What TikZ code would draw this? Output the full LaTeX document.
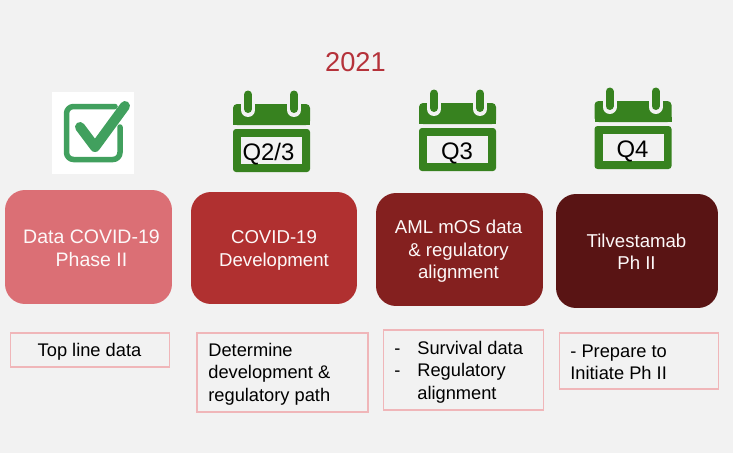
\documentclass[tikz,border=0pt]{standalone}
\usepackage{fontspec}
\setmainfont{Liberation Sans}
\usepackage{xcolor}
\usetikzlibrary{positioning}
\definecolor{rdPage}{HTML}{F2F2F2}
\definecolor{rdYear}{HTML}{B5323A}
\definecolor{rdRose}{HTML}{DB6F75}
\definecolor{rdRed}{HTML}{B03030}
\definecolor{rdDark}{HTML}{84201F}
\definecolor{rdDeep}{HTML}{591414}
\definecolor{rdNote}{HTML}{F0B6B9}
\definecolor{rdCal}{HTML}{37821F}
\definecolor{rdTick}{HTML}{41A05E}
\newcommand{\calfont}{\fontsize{13.6}{15}\selectfont}
\newcommand{\cardfont}{\fontsize{10.6}{12.8}\selectfont}
\newcommand{\notefont}{\fontsize{10.4}{12.7}\selectfont}
\newcommand{\dashitem}{\makebox[0.46cm][l]{-}}
\tikzset{
  rd card/.style={draw=none, rounded corners=0.4cm, inner sep=0pt},
  rd card text/.style={text=white!95!rdRose, align=center, inner sep=0pt, font=\cardfont},
  rd note/.style={draw=rdNote, line width=1pt, inner sep=0pt},
  rd note text/.style={text=black, align=left, inner sep=0pt, font=\notefont},
  rd ring/.style={draw=rdCal, line width=0.16cm, line cap=round},
  rd halo/.style={draw=rdPage, line width=0.28cm, line cap=round},
  rd tick/.style={draw=rdTick, line cap=round, line join=round},
  calicon/.pic={
    \fill[rdCal, rounded corners=0.08cm] (0,21) -- (0,0) -- (77,0) -- (77,21) -- cycle;
    \fill[rdCal] (0,21) -- (0,16) -- (77,16) -- (77,21) -- cycle;
    \fill[rdCal, rounded corners=0.06cm] (0,25) rectangle (77,68);
    \fill[rdPage] (8,4) rectangle (22,-4);
    \fill[rdPage] (54,4) rectangle (68,-4);
    \draw[rd halo] (15,-6) -- (15,6);
    \draw[rd halo] (61,-6) -- (61,6);
    \draw[rd ring] (15,-9.5) -- (15,5);
    \draw[rd ring] (61,-9.5) -- (61,5);
    \fill[rdPage] (8,33) rectangle (69,60);
    \node[font=\calfont, inner sep=0pt] (-label) at (38,50) {\tikzpictext};
  }
}

\begin{document}
\begin{tikzpicture}[x=0.02cm,y=-0.02cm]
\useasboundingbox (0,0) rectangle (733,453);
\fill[rdPage] (0,0) rectangle (733,453);
\node[text=rdYear, font=\fontsize{15.5}{18}\selectfont, inner sep=0pt] (year) at (355.5,62) {2021};
% tick box
\fill[white] (52,92) rectangle (134,174);
\draw[rd tick, line width=0.11cm, rounded corners=0.14cm] (115,106.5) -- (66.5,106.5) -- (66.5,159.5) -- (120,159.5) -- (120,127);
\draw[rd tick, line width=0.2cm] (80,127) -- (95,147) -- (125,106);
% calendars
\pic[pic text={Q2/3\hspace*{0.1cm}}] (calB) at (233,104) {calicon};
\pic[pic text={Q3}] (calC) at (419,103) {calicon};
\pic[pic text={Q4}] (calD) at (594.5,101) {calicon};
% cards
\node[rd card, fill=rdRose, minimum width=3.34cm, minimum height=2.28cm] (cardA) at (88.5,247) {};
\node[rd card, fill=rdRed, minimum width=3.32cm, minimum height=2.24cm] (cardB) at (274,248) {};
\node[rd card, fill=rdDark, minimum width=3.34cm, minimum height=2.26cm] (cardC) at (459.5,249.5) {};
\node[rd card, fill=rdDeep, minimum width=3.24cm, minimum height=2.28cm] (cardD) at (637,251) {};
\node[rd card text, font=\fontsize{11.1}{12.8}\selectfont] (cardAtext) at (91.5,248.5) {Data COVID-19\\Phase II};
\node[rd card text] (cardBtext) at (274,250.5) {COVID-19\\Development};
\node[rd card text] (cardCtext) at (458.5,251.5) {AML mOS data\\\& regulatory\\alignment};
\node[rd card text] (cardDtext) at (636.5,252) {Tilvestamab\\Ph II};
% notes
\node[rd note, minimum width=3.18cm, minimum height=0.68cm] (noteA) at (90,350) {};
\node[rd note, minimum width=3.42cm, minimum height=1.58cm] (noteB) at (282.5,372.5) {};
\node[rd note, minimum width=3.2cm, minimum height=1.6cm] (noteC) at (463.5,370) {};
\node[rd note, minimum width=3.18cm, minimum height=1.12cm] (noteD) at (639,361) {};
\node[rd note text] (noteAtext) at (89.5,352) {Top line data};
\node[rd note text, anchor=west] (noteBtext) at (208,374) {Determine\\development \&\\regulatory path};
\node[rd note text, anchor=west] (noteCtext) at (394,372) {\dashitem Survival data\\\dashitem Regulatory\\\hspace*{0.46cm}alignment};
\node[rd note text, anchor=west] (noteDtext) at (570,362) {- Prepare to\\Initiate Ph II};
\end{tikzpicture}
\end{document}
